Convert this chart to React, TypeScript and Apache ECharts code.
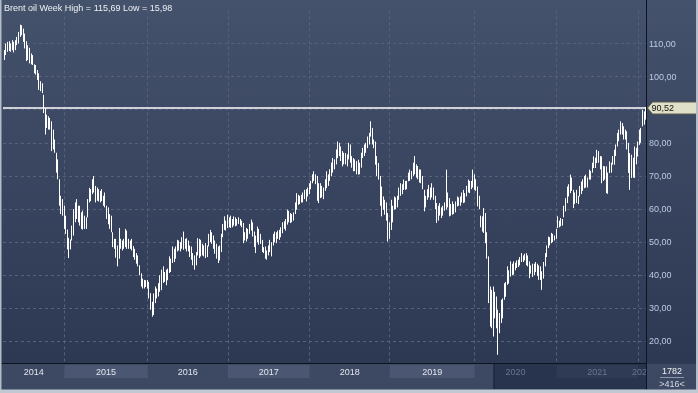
import React, { useEffect, useRef } from 'react';
import * as echarts from 'echarts';

const TITLE = 'Brent oil Week High = 115,69 Low = 15,98';

// Weekly high / low values (Apr 2014 .. Jan 2022)
const highs = [
  108, 110, 110.5, 110.7, 110, 111, 110.5, 111, 112, 113.5,
  115.69, 115.5, 114.5, 113, 110.7, 109.5, 108.7, 107, 106.5, 103.7,
  103.5, 102, 101, 98.6, 98, 94.5, 90.5, 88.5, 88, 87.5,
  86.5, 84, 81, 77, 75, 69, 64, 63, 61, 58,
  53.8, 51.3, 50.8, 55, 60, 62, 63, 61, 61, 59,
  59.5, 58, 57.5, 63, 66.4, 66, 69, 70, 67, 66.5,
  66, 65.5, 66, 64, 65, 61, 60.5, 58.5, 58, 53,
  51, 51, 49, 54.3, 51, 50.5, 51, 54, 53.5, 51,
  50.5, 51, 48.8, 48, 46.7, 46, 43, 40.6, 39, 38.6,
  38.5, 38.6, 38, 34.6, 32, 34.5, 36.6, 36, 37.6, 40,
  41.7, 42.7, 41, 41.7, 42, 45.7, 45, 48.7, 48, 48.7,
  50.7, 50.5, 50, 51.5, 53.2, 51, 51.2, 50.5, 49, 48.7,
  46.7, 46, 47, 51.2, 51, 50.7, 49.5, 49, 49.7, 49,
  52.5, 53.7, 53, 52, 50.5, 49.5, 48.7, 49, 52.5, 55.5,
  57.8, 56.5, 58.3, 57.5, 58, 57, 57.8, 57.5, 57, 57.5,
  57, 56.5, 55.8, 53, 54.3, 54, 55.5, 56.8, 56, 53.2,
  52, 54.7, 54, 52.5, 50.7, 48.5, 48.7, 47.5, 49, 50.7,
  50, 52.5, 53.2, 53, 53.5, 53.7, 54.5, 56, 56.3, 57,
  59.8, 59.5, 58.8, 58.5, 59, 62, 64.8, 64.3, 64, 64.3,
  65, 65.8, 66, 66.5, 67.8, 68.5, 70.5, 71.4, 70.5, 70,
  67.8, 67.8, 67, 66.5, 69, 71.4, 70.5, 72, 74, 75.4,
  75, 78, 80.4, 80, 78.9, 77.5, 77, 76.9, 76.5, 80,
  79.5, 76, 75.4, 75, 74.5, 74.9, 74, 77, 78.5, 79.5,
  80, 81.9, 83, 86.5, 84.5, 81, 80.4, 76, 73.9, 70,
  66.8, 63.8, 62.8, 62, 58.8, 56, 62.8, 61, 63.8, 63.5,
  64, 66.5, 67.8, 67.5, 68.9, 68.5, 68.5, 71, 71.9, 71.5,
  74, 76, 73.5, 73, 72, 71.9, 70, 65.8, 64, 66,
  67.3, 66.5, 67.8, 66.5, 64, 61.8, 61, 61.8, 60.5, 61,
  62, 71.9, 65, 63.3, 61.5, 62.3, 61.5, 62.3, 63.8, 63.5,
  63.8, 65, 65.8, 64.8, 67, 68.9, 68.5, 68.5, 71.9, 70.5,
  69, 66.8, 64, 58, 57.8, 60.3, 58.8, 53, 45.7, 36.6,
  35.6, 36.6, 35, 33.6, 29.6, 28.6, 32.6, 33, 37.6, 38,
  42.7, 41.5, 44.2, 43.5, 44.2, 43.8, 44.5, 44.7, 45.5, 46.7,
  46, 46.5, 46.7, 46, 44.2, 43, 43.5, 43.5, 44, 43.5,
  43, 42.7, 41.2, 44, 46.7, 49, 51.7, 51.5, 52.8, 52.5,
  52, 54, 57.8, 56.5, 57.3, 57, 61, 63.3, 66.8, 67.5,
  70.4, 69.5, 65.8, 65, 65.8, 64, 67, 68.3, 69, 70,
  70.4, 69.5, 71.9, 71.5, 74, 75.9, 75.5, 77.9, 77.5, 76,
  75.9, 73, 72.9, 72.9, 71, 74.4, 74, 76, 77.9, 79.5,
  83, 84, 86.5, 86, 85, 84, 83.5, 80, 76.9, 76.4,
  75.5, 78.9, 78.5, 80.4, 84, 84.5, 90, 89.5, 90.8,
];

const lows = [
  105, 106.5, 107.5, 107.7, 107.5, 108, 107.3, 108, 109.5, 110,
  112, 112.5, 110.5, 108.5, 104.7, 105, 104, 103.7, 103.5, 101,
  100.6, 99, 96, 95.6, 95, 89, 82.5, 84.5, 84, 84,
  77.5, 78, 77, 71, 69, 61, 58.5, 58, 54, 52.5,
  47.8, 45.2, 47.8, 50.5, 52, 56, 57, 56, 55, 54,
  53.8, 54, 54, 57.5, 62, 62.4, 64.5, 65, 62, 62.5,
  62.3, 62, 62.4, 61, 60.5, 57, 55.4, 54, 53, 48.5,
  48, 45.3, 42.7, 45, 48, 47.5, 48, 48.5, 48, 48,
  48, 47.5, 45.5, 44.7, 43.5, 42.7, 40, 36.6, 36, 36,
  36.5, 36, 33, 29.6, 27.5, 28, 31.6, 33, 33.6, 35,
  35.5, 37.7, 38, 37, 38.5, 40.7, 41, 43.7, 44, 45,
  47.2, 47.5, 47.2, 48, 47.7, 48, 47.2, 47.2, 45.5, 44.7,
  43, 41.7, 43, 46, 45.2, 45.7, 46, 45.7, 45.2, 45.5,
  48.7, 50, 49.5, 48, 46.5, 45, 43.7, 44.5, 47, 51.5,
  53.7, 53.5, 54.3, 54.5, 54.3, 54.5, 55, 54.8, 55, 55.5,
  55, 54.5, 49.7, 50.5, 50.2, 51, 52.5, 53.5, 51.7, 48.5,
  46.7, 50, 49.2, 49.5, 47, 46.7, 45, 44.7, 46, 47,
  45.7, 49, 50, 49.7, 51, 50.7, 51.5, 52.7, 54, 53.5,
  55.3, 56, 55.8, 56, 56.5, 58.5, 59.8, 61.3, 61.5, 62,
  62, 63, 62.3, 63.8, 64.5, 66, 67.8, 68.5, 67.5, 62.5,
  61.8, 63.3, 63.5, 63, 65.5, 66.3, 67, 68.5, 69.9, 71,
  72, 73.5, 75.4, 76, 74.5, 72.9, 73.5, 73.5, 72.9, 75,
  74, 72.5, 71.4, 71.5, 70.5, 70.4, 70.5, 72.5, 75.4, 76,
  77, 78.4, 79.5, 81.9, 79.5, 78.4, 73.4, 70, 68.9, 61,
  57.8, 59.8, 58.3, 56.5, 50.2, 51, 53.7, 56, 59.8, 60,
  60.5, 62.8, 64, 64.5, 65.8, 65.8, 66, 68.4, 68.5, 69,
  70, 70.5, 69.5, 69, 68, 67.8, 66, 59.3, 60.5, 62.8,
  63.5, 62.8, 63.5, 62.8, 60, 55.8, 56.5, 58, 57.3, 58,
  59.5, 59.8, 60.5, 57.8, 58, 58.3, 58.5, 59, 60.8, 61,
  61, 62, 61.8, 62, 63.8, 65, 64.8, 66, 66.5, 65.8,
  65.5, 60.8, 60, 54.5, 53.2, 52.8, 49.7, 45, 31.6, 24.5,
  24, 21.5, 27, 24, 15.98, 22.5, 25.6, 27, 32.6, 33.5,
  37.1, 37.5, 39.6, 40, 40.2, 41.5, 42.2, 42.5, 43, 44,
  44, 44.5, 43, 42.7, 39.1, 40.5, 39.5, 40, 41, 39.8,
  38.6, 38.6, 35.6, 39, 42.7, 45.5, 48.2, 49, 49.7, 50,
  50.5, 51, 54.3, 54.5, 54.8, 55, 57.5, 59.3, 61.8, 63.8,
  64.8, 65.5, 60.3, 61.5, 61.8, 61.5, 63.8, 64.5, 65.5, 66.3,
  66.5, 66.5, 68.9, 68.9, 71, 72.4, 72.4, 73.9, 74, 72,
  67.8, 68.5, 68.9, 64.8, 64.6, 70.9, 71, 73.4, 73.4, 76,
  78.9, 80.5, 82.5, 82.5, 81, 81, 78, 70.9, 65.8, 69.4,
  69.5, 69.4, 73.5, 75.9, 79.4, 80, 85, 85.5, 87,
];

const yearLabels = ['2014', '2015', '2016', '2017', '2018', '2019', '2020', '2021', '2022'];
const yearStarts = [0, 39, 92, 143, 195, 246, 300, 352, 404];
const priceLabelValues = [20, 30, 40, 50, 60, 70, 80, 100, 110];
const lastPrice = 90.52;
const lastPriceText = '90,52';
const barCountText = '1782';
const visibleText = '>416<';
const scrollStartWeek = 312;

const FONT = '"Liberation Sans", Arial, sans-serif';

export default function App() {
  const ref = useRef<HTMLDivElement>(null);

  useEffect(() => {
    if (!ref.current) return;
    const chart = echarts.init(ref.current, null, { renderer: 'svg' });
    const weeks = highs.map((_, i) => String(i));
    const yearStartSet = new Set(yearStarts.slice(1));
    const labelSet = new Set(priceLabelValues);
    const data = highs.map((h, i) => [i, h, lows[i]]);

    chart.setOption({
      animation: false,
      grid: { left: 3, top: 10.4, width: 643, height: 364.2 },
      xAxis: {
        type: 'category',
        data: weeks,
        boundaryGap: true,
        axisLine: { show: false },
        axisTick: { show: false },
        axisLabel: { show: false },
        splitLine: {
          show: true,
          interval: (idx: number) => yearStartSet.has(idx),
          lineStyle: { color: '#56627c', type: [3, 3], width: 1 },
        },
      },
      yAxis: {
        type: 'value',
        position: 'right',
        min: 10,
        max: 120,
        interval: 10,
        axisLine: { show: false },
        axisTick: { show: false },
        axisLabel: {
          margin: 3,
          color: '#bccae2',
          fontSize: 9,
          fontFamily: FONT,
          formatter: (v: number) => (labelSet.has(v) ? v.toFixed(2).replace('.', ',') : ''),
        },
        splitLine: {
          show: true,
          showMinLine: false,
          showMaxLine: false,
          lineStyle: { color: '#56627c', type: [3, 3], width: 1 },
        },
      },
      series: [
        {
          type: 'custom',
          z: 3,
          data,
          encode: { x: 0, y: [1, 2] },
          renderItem: (params: any, api: any) => {
            const i = api.value(0);
            const top = api.coord([i, api.value(1)]);
            const bot = api.coord([i, api.value(2)]);
            const x = Math.round(top[0]) + 0.5;
            return {
              type: 'line',
              shape: { x1: x, y1: top[1], x2: x, y2: bot[1] },
              style: { stroke: '#ffffff', lineWidth: 1 },
            };
          },
          markLine: {
            silent: true,
            symbol: 'none',
            label: { show: false },
            lineStyle: { color: '#ffffff', width: 1.5, type: 'solid' },
            data: [{ yAxis: lastPrice }],
          },
        },
      ],
    });

    const cx = (i: number) => chart.convertToPixel({ xAxisIndex: 0 }, i) as number;
    const bw = cx(1) - cx(0);
    const n = highs.length;
    const edge = (i: number) => (i >= n ? cx(n - 1) + bw / 2 : cx(i) - bw / 2);
    const yPrice = chart.convertToPixel({ yAxisIndex: 0 }, lastPrice) as number;
    const plotRight = edge(n);
    const darkX = edge(scrollStartWeek);

    const g: any[] = [];
    g.push({
      type: 'rect', z: -10, silent: true,
      shape: { x: 0, y: 0, width: 698, height: 393 },
      style: {
        fill: new echarts.graphic.LinearGradient(0, 0, 0, 1, [
          { offset: 0, color: '#45526c' },
          { offset: 1, color: '#2b3651' },
        ]),
      },
    });
    // bottom band
    g.push({ type: 'rect', z: 20, silent: true, shape: { x: 0, y: 363.5, width: plotRight, height: 27 }, style: { fill: '#3d4963' } });
    yearLabels.forEach((lab, k) => {
      const x0 = edge(yearStarts[k]);
      const x1 = edge(k + 1 < yearStarts.length ? yearStarts[k + 1] : n);
      if (k % 2 === 1 && x0 < darkX) {
        g.push({ type: 'rect', z: 21, silent: true, shape: { x: x0, y: 365, width: x1 - x0, height: 13 }, style: { fill: '#4b5772' } });
      }
    });
    g.push({ type: 'rect', z: 22, silent: true, shape: { x: darkX, y: 364, width: plotRight - darkX, height: 25 }, style: { fill: '#28334d' } });
    g.push({ type: 'line', z: 23, silent: true, shape: { x1: darkX + 0.5, y1: 364, x2: darkX + 0.5, y2: 389 }, style: { stroke: '#1a2236', lineWidth: 1 } });
    yearLabels.forEach((lab, k) => {
      const x0 = edge(yearStarts[k]);
      const x1 = edge(k + 1 < yearStarts.length ? yearStarts[k + 1] : n);
      if (k % 2 === 1 && x0 >= darkX) {
        g.push({ type: 'rect', z: 23, silent: true, shape: { x: x0, y: 365, width: x1 - x0, height: 13 }, style: { fill: '#2f3a55' } });
      }
      const c = (x0 + x1) / 2;
      g.push({
        type: 'text', z: 24, silent: true, x: c, y: 371.5,
        style: { text: lab, fill: c >= darkX ? '#6a7690' : '#e2e6ee', font: `9px ${FONT}`, align: 'center', verticalAlign: 'middle' },
      });
    });
    // frame lines
    g.push({ type: 'line', z: 30, silent: true, shape: { x1: 0, y1: 363.5, x2: plotRight, y2: 363.5 }, style: { stroke: '#0e1320', lineWidth: 1 } });
    g.push({ type: 'line', z: 30, silent: true, shape: { x1: plotRight + 0.5, y1: 0, x2: plotRight + 0.5, y2: 390 }, style: { stroke: '#0e1320', lineWidth: 1 } });
    // right bottom box
    g.push({ type: 'rect', z: 29, silent: true, shape: { x: plotRight + 1, y: 364, width: 698 - plotRight - 1, height: 27 }, style: { fill: '#3d4963' } });
    g.push({ type: 'text', z: 31, silent: true, x: 672, y: 370.5, style: { text: barCountText, fill: '#eef0f4', font: `9px ${FONT}`, align: 'center', verticalAlign: 'middle' } });
    g.push({ type: 'line', z: 31, silent: true, shape: { x1: 660, y1: 377.5, x2: 684, y2: 377.5 }, style: { stroke: '#8b95a9', lineWidth: 1 } });
    g.push({ type: 'text', z: 31, silent: true, x: 672, y: 383.5, style: { text: visibleText, fill: '#d4dbe6', font: `9px ${FONT}`, align: 'center', verticalAlign: 'middle' } });
    // price tag
    const px = plotRight + 1.5;
    g.push({
      type: 'polygon', z: 32, silent: true,
      shape: { points: [[px, yPrice], [px + 5, yPrice - 6], [697, yPrice - 6], [697, yPrice + 6], [px + 5, yPrice + 6]] },
      style: { fill: '#e0e0c8', stroke: '#5b5d4e', lineWidth: 1 },
    });
    g.push({ type: 'text', z: 33, silent: true, x: px + 4, y: yPrice, style: { text: lastPriceText, fill: '#111111', font: `9px ${FONT}`, align: 'left', verticalAlign: 'middle' } });
    // title
    g.push({ type: 'text', z: 33, silent: true, x: 4, y: 3, style: { text: TITLE, fill: '#eef0f4', font: `9px ${FONT}`, align: 'left', verticalAlign: 'top' } });
    // outer border
    g.push({ type: 'rect', z: 40, silent: true, shape: { x: 0, y: 0, width: 1.5, height: 393 }, style: { fill: '#b4bcc8' } });
    g.push({ type: 'rect', z: 40, silent: true, shape: { x: 696, y: 0, width: 2, height: 393 }, style: { fill: '#b4bcc8' } });
    g.push({ type: 'rect', z: 40, silent: true, shape: { x: 0, y: 389.5, width: 698, height: 3.5 }, style: { fill: '#c2c8d2' } });

    chart.setOption({ graphic: g });

    return () => chart.dispose();
  }, []);

  return <div ref={ref} style={{ position: 'fixed', left: 0, top: 0, width: 698, height: 393 }} />;
}
